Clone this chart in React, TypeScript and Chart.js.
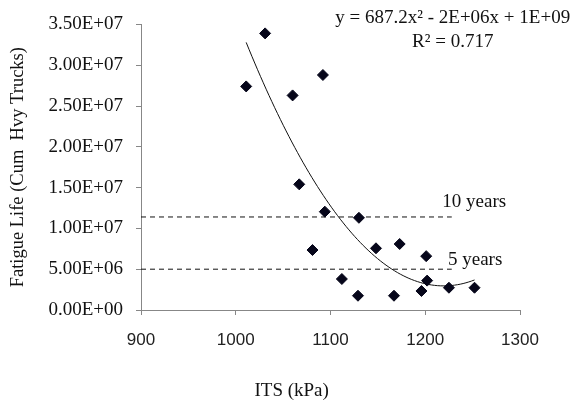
import React, { useEffect, useRef } from 'react';
import { Chart, registerables } from 'chart.js';

Chart.register(...registerables);

// ITS (kPa) of each specimen
const itsKPa = [1011, 1031, 1060, 1092, 1067, 1081, 1094, 1130, 1112, 1129, 1148, 1173, 1167, 1201, 1202, 1196, 1225, 1252];
// Fatigue life (millions of cumulative heavy trucks)
const fatigueLifeM = [27.4, 33.9, 26.3, 28.8, 15.4, 7.35, 12.05, 11.3, 3.8, 1.75, 7.56, 8.09, 1.75, 6.6, 3.6, 2.33, 2.73, 2.73];

const tenYearLevelM = 11.4;
const fiveYearLevelM = 5.0;
const thresholdStartITS = 900;
const thresholdEndITS = 1228;

const xMin = 900;
const xMax = 1300;
const xStep = 100;
const yMax = 35e6;
const yStep = 5e6;

const xTitle = 'ITS (kPa)';
const yTitle = 'Fatigue Life (Cum  Hvy Trucks)';
const equationText = 'y = 687.2x² - 2E+06x + 1E+09';
const r2Text = 'R² = 0.717';
const tenYearText = '10 years';
const fiveYearText = '5 years';

const serif = '"Liberation Serif", serif';

function sci(v: number): string {
  if (v === 0) return '0.00E+00';
  const e = Math.floor(Math.log10(Math.abs(v)) + 1e-9);
  const m = v / Math.pow(10, e);
  return m.toFixed(2) + 'E' + (e < 0 ? '-' : '+') + String(Math.abs(e)).padStart(2, '0');
}

// least-squares quadratic fit of the data (as the spreadsheet trendline does)
function quadFit(xs: number[], ys: number[]) {
  const c = 1100, s = 100;
  const S = [0, 0, 0, 0, 0];
  const T = [0, 0, 0];
  for (let i = 0; i < xs.length; i++) {
    const u = (xs[i] - c) / s;
    let p = 1;
    for (let k = 0; k < 5; k++) { S[k] += p; p *= u; }
    T[0] += ys[i]; T[1] += ys[i] * u; T[2] += ys[i] * u * u;
  }
  const A = [[S[0], S[1], S[2], T[0]], [S[1], S[2], S[3], T[1]], [S[2], S[3], S[4], T[2]]];
  for (let i = 0; i < 3; i++) {
    for (let j = i + 1; j < 3; j++) {
      const f = A[j][i] / A[i][i];
      for (let k = i; k < 4; k++) A[j][k] -= f * A[i][k];
    }
  }
  const r = [0, 0, 0];
  for (let i = 2; i >= 0; i--) {
    let sum = A[i][3];
    for (let k = i + 1; k < 3; k++) sum -= A[i][k] * r[k];
    r[i] = sum / A[i][i];
  }
  return (x: number) => { const u = (x - c) / s; return r[0] + r[1] * u + r[2] * u * u; };
}

const textPlugin = {
  id: 'annotText',
  afterDraw(chart: any) {
    const { ctx, scales } = chart;
    const xs = scales.x, ys = scales.y;
    ctx.save();
    ctx.fillStyle = '#111';
    ctx.font = '19px ' + serif;
    ctx.textBaseline = 'middle';
    ctx.textAlign = 'center';
    const ex = xs.getPixelForValue(1229);
    ctx.fillText(equationText, ex, ys.getPixelForValue(35.8e6));
    ctx.fillText(r2Text, ex, ys.getPixelForValue(32.8e6));
    // x-axis title (sits left of the plot centre in the original)
    ctx.fillText(xTitle, xs.getPixelForValue(1059), chart.height - 10);
    ctx.textAlign = 'left';
    ctx.fillText(tenYearText, xs.getPixelForValue(1218), ys.getPixelForValue(13.2e6));
    ctx.fillText(fiveYearText, xs.getPixelForValue(1224), ys.getPixelForValue(6.1e6));
    ctx.restore();
  },
};

export default function App() {
  const ref = useRef<HTMLCanvasElement>(null);
  useEffect(() => {
    document.body.style.margin = '0';
    const pts = itsKPa.map((x, i) => ({ x, y: fatigueLifeM[i] * 1e6 }));
    const fit = quadFit(itsKPa, fatigueLifeM.map((v) => v * 1e6));
    const lo = Math.min(...itsKPa), hi = Math.max(...itsKPa);
    const trend: { x: number; y: number }[] = [];
    for (let i = 0; i <= 80; i++) {
      const x = lo + ((hi - lo) * i) / 80;
      trend.push({ x, y: fit(x) });
    }
    const gray = '#878787';
    const chart = new Chart(ref.current!, {
      type: 'scatter',
      data: {
        datasets: [
          {
            label: 'Fatigue life',
            data: pts,
            pointStyle: 'rectRot',
            pointRadius: 5.5,
            backgroundColor: '#06061a',
            borderColor: '#06061a',
            showLine: false,
          },
          {
            label: 'Trend',
            data: trend,
            showLine: true,
            pointRadius: 0,
            borderColor: '#111',
            borderWidth: 1,
            fill: false,
          },
          {
            label: '10 years',
            data: [{ x: thresholdStartITS, y: tenYearLevelM * 1e6 }, { x: thresholdEndITS, y: tenYearLevelM * 1e6 }],
            showLine: true,
            pointRadius: 0,
            borderColor: '#111',
            borderWidth: 1,
            borderDash: [5, 4],
          },
          {
            label: '5 years',
            data: [{ x: thresholdStartITS, y: fiveYearLevelM * 1e6 }, { x: thresholdEndITS, y: fiveYearLevelM * 1e6 }],
            showLine: true,
            pointRadius: 0,
            borderColor: '#111',
            borderWidth: 1,
            borderDash: [5, 4],
          },
        ],
      } as any,
      options: {
        animation: false,
        responsive: false,
        maintainAspectRatio: false,
        layout: { padding: { left: 0, right: 52, top: 24, bottom: 0 } },
        plugins: { legend: { display: false }, tooltip: { enabled: false } },
        scales: {
          x: {
            type: 'linear',
            min: xMin,
            max: xMax,
            ticks: {
              stepSize: xStep,
              color: '#222',
              padding: 15,
              font: { family: '"Liberation Sans", sans-serif', size: 17 },
              callback: (v: any) => String(v),
            },
            grid: { drawOnChartArea: false, tickLength: 5, color: gray },
            border: { color: gray, width: 1 },
            afterFit: (s: any) => { s.height = 91; },
          },
          y: {
            type: 'linear',
            min: 0,
            max: yMax,
            ticks: {
              stepSize: yStep,
              color: '#111',
              padding: 13,
              font: { family: serif, size: 19 },
              callback: (v: any) => sci(Number(v)),
            },
            grid: { drawOnChartArea: false, tickLength: 5, color: gray },
            border: { color: gray, width: 1 },
            title: {
              display: true,
              text: yTitle,
              color: '#111',
              font: { family: serif, size: 18.5 },
              padding: { top: 7, bottom: 0 },
            },
            afterFit: (s: any) => { s.width = 141; },
          },
        },
      },
      plugins: [textPlugin],
    });
    return () => chart.destroy();
  }, []);
  return <canvas ref={ref} width={572} height={401} style={{ display: 'block' }} />;
}
